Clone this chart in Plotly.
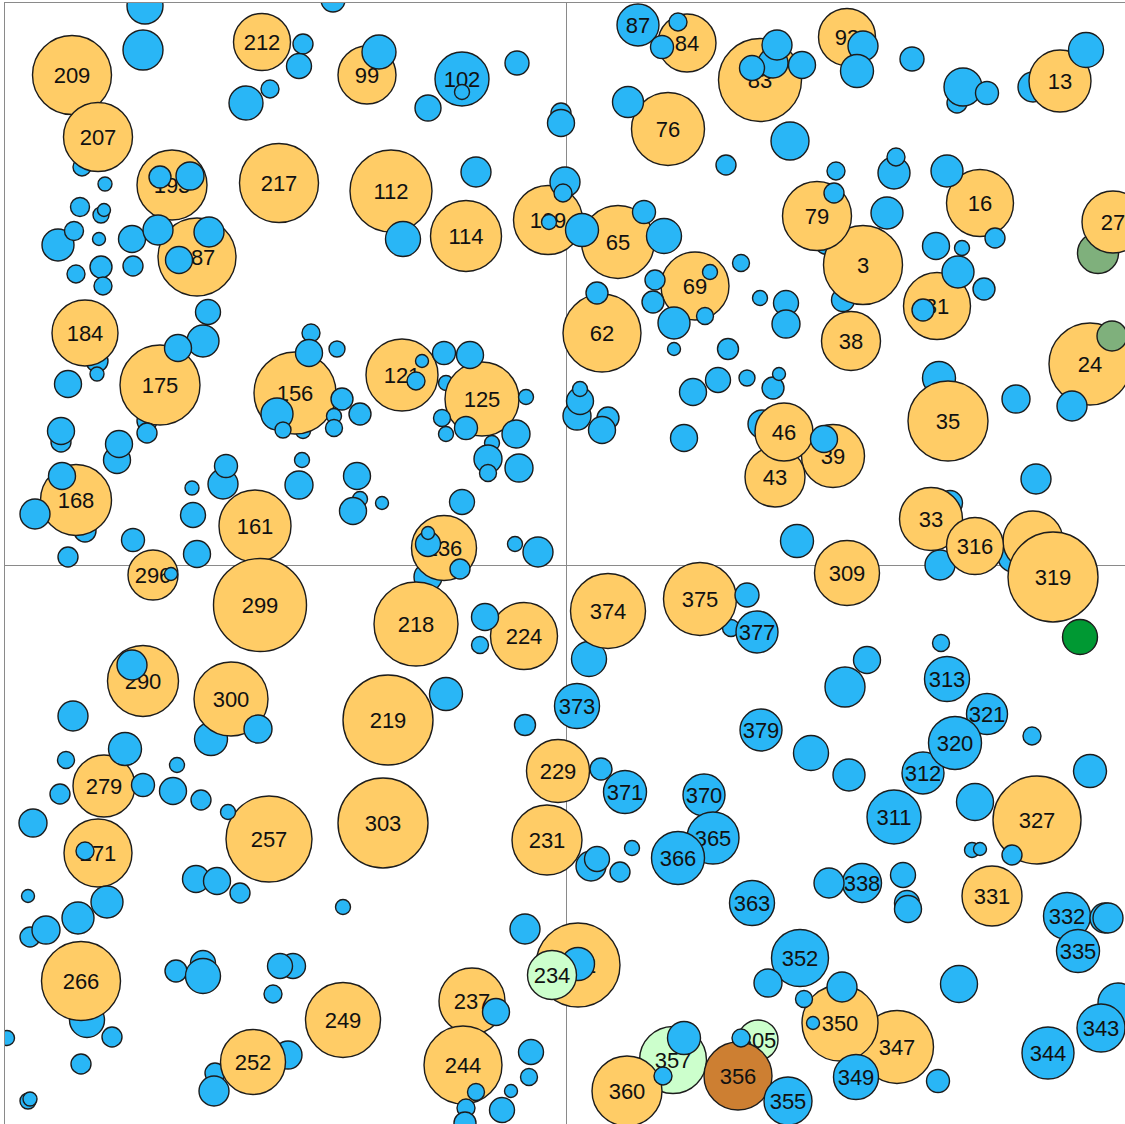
import plotly.graph_objects as go

# ---------------- data (x, y in chart units, centre of quadrants = 0; size = bubble diameter) -------------
KIND_COLORS = {"A": "#FFCC66", "B": "#29B6F6", "C": "#CCFFCC", "D": "#CD7F32", "E": "#009933", "F": "#7FB07C"}

# blue bubbles partly hidden behind others (drawn first)
under_x = [-484, 467, -469, -469, -481, -419, -479, -138, 384, 447,
           -351, -278, -263, -5, 261, 277, 196, 373, 374, -355,
           23, 165, -120, -505, 25, 552, -363, -536, -343, -206,
           -74, 11]
under_y = [398, 478, 204, 191, 34, 144, -455, -12, 62, 8,
           -508, -490, 134, 452, 323, 265, 141, 187, 0, -174,
           -94, -63, 182, 123, -301, -438, -398, -372, 81, 66,
           122, 149]
under_size = [18, 30, 22, 14, 22, 20, 35, 28, 25, 30,
              20, 28, 15, 20, 25, 23, 28, 33, 30, 33,
              35, 17, 15, 20, 30, 40, 25, 20, 30, 15,
              15, 28]

# special-coloured bubbles lying below the orange ones
low_label = ["", "357", "305", "356"]
low_x = [532, 107, 192, 172]
low_y = [312, -495, -475, -511]
low_size = [41, 67, 40, 68]
low_kind = ["F", "C", "C", "D"]

# orange bubbles
orange_label = ["209", "207", "212", "99", "193", "217", "187", "112", "114", "109",
                "65", "84", "83", "76", "93", "13", "16", "3", "79", "27",
                "184", "175", "156", "168", "161", "121", "125", "236", "62", "69",
                "38", "31", "24", "35", "39", "43", "46", "33", "309", "",
                "316", "319", "296", "299", "290", "300", "279", "257", "271", "218",
                "224", "219", "303", "374", "375", "229", "231", "327", "331", "266",
                "249", "252", "232", "237", "244", "360", "347", "350"]
orange_x = [-494, -468, -304, -199, -394, -287, -369, -175, -100, -18,
            52, 121, 194, 102, 281, 494, 414, 297, 251, 547,
            -481, -406, -271, -490, -311, -164, -84, -122, 36, 129,
            285, 371, 524, 382, 267, 209, 218, 365, 281, 467,
            409, 487, -413, -306, -423, -335, -462, -297, -468, -150,
            -42, -178, -183, 42, 134, -8, -19, 471, 426, -485,
            -223, -313, 12, -94, -103, 61, 331, 274]
orange_y = [490, 428, 523, 490, 380, 382, 308, 374, 329, 345,
            323, 522, 485, 436, 528, 484, 362, 300, 349, 343,
            232, 180, 172, 65, 39, 190, 166, 17, 232, 279,
            224, 259, 201, 144, 109, 88, 133, 46, -8, 24,
            19, -12, -10, -40, -116, -134, -221, -274, -288, -59,
            -71, -155, -258, -46, -34, -206, -275, -255, -331, -416,
            -455, -497, -400, -436, -500, -526, -482, -458]
orange_size = [79, 69, 57, 58, 70, 79, 78, 82, 71, 69,
               73, 58, 83, 73, 57, 62, 67, 79, 69, 62,
               66, 80, 82, 71, 72, 72, 74, 65, 78, 68,
               59, 67, 82, 80, 63, 60, 58, 63, 65, 60,
               57, 90, 50, 93, 71, 74, 62, 86, 68, 84,
               67, 90, 90, 75, 73, 63, 70, 88, 60, 79,
               75, 65, 84, 66, 78, 70, 73, 76]

# blue bubbles
blue_label = ["", "", "", "", "", "", "", "", "", "",
              "", "", "", "", "", "", "", "", "", "",
              "", "", "", "", "", "", "", "", "102", "",
              "", "", "", "", "", "", "", "", "", "",
              "", "", "", "", "", "", "", "", "", "",
              "", "", "", "", "", "", "", "", "", "",
              "", "", "", "", "", "", "", "", "", "",
              "", "", "", "", "", "", "", "", "", "",
              "", "", "", "", "", "", "", "87", "", "",
              "", "", "", "", "", "", "", "", "", "",
              "", "", "", "", "", "", "", "", "", "",
              "", "", "", "", "", "", "", "", "", "",
              "", "", "", "", "", "", "", "", "", "",
              "", "", "", "", "", "", "", "", "", "",
              "", "", "", "", "", "", "", "", "", "",
              "", "", "", "", "", "", "", "", "", "373",
              "", "371", "", "", "", "", "", "", "", "",
              "", "", "", "", "", "", "", "", "", "",
              "", "", "", "", "", "", "", "", "", "",
              "", "", "", "", "", "", "377", "379", "", "",
              "", "313", "312", "321", "320", "", "", "", "311", "",
              "", "370", "365", "366", "363", "", "", "", "338", "",
              "", "", "", "332", "335", "", "", "", "352", "",
              "", "", "", "349", "", "344", "343", "", "", "", "355"]
blue_x = [207, 211, 391, -421, -423, -263, -267, -320, -296, -187,
          -233, -406, -376, -461, -486, -465, -462, -508, -492, -467,
          -434, -408, -357, -387, -433, -465, -490, -463, -104, -104,
          -138, -49, -5, -90, -1, -3, -17, 16, -163, -358,
          -363, -388, -498, -505, -419, -449, -447, -504, -531, -498,
          -433, -369, -255, -257, -229, -224, -206, -232, -232, -289,
          -283, -340, -374, -373, -264, -267, -209, -213, -184, -104,
          -144, -150, -122, -96, -40, -124, -120, -100, -50, -78,
          -78, -47, -138, -138, -51, -28, -106, 72, 112, 96,
          186, 236, 297, 291, 346, 397, 421, 520, 62, 160,
          224, 270, 268, 328, 330, 381, 429, 321, 370, 396,
          392, 418, 357, 78, 98, 175, 144, 89, 87, 108,
          139, 108, 162, 31, 194, 220, 220, 152, 127, 181,
          207, 213, 258, 14, 14, 42, 36, 118, 450, 506,
          470, 231, -395, -434, -308, -493, -441, -500, -506, -423,
          -393, -389, -365, -338, -533, -81, -86, -120, -41, 11,
          35, 59, -481, -538, -459, -488, -520, -454, -559, -485,
          -538, -536, -370, -349, -326, -223, -390, -363, -273, -286,
          -293, -352, -41, 12, -70, -35, -37, -90, -55, -64,
          -100, -101, 31, 54, 66, 181, 191, 195, 375, 301,
          279, 381, 357, 421, 389, 466, 245, 283, 328, 524,
          409, 138, 147, 112, 186, 406, 414, 446, 296, 263,
          337, 341, 342, 501, 512, 539, 542, 393, 234, 202,
          276, 238, 247, 290, 372, 482, 535, 118, 97, 175, 222]
blue_y = [502, 520, 462, 559, 515, 521, 499, 462, 476, 513,
          565, 388, 389, 381, 358, 350, 355, 320, 334, 326,
          326, 335, 333, 305, 299, 298, 291, 279, 486, 473,
          457, 502, 442, 393, 383, 372, 343, 335, 326, 253,
          224, 217, 181, 134, 132, 105, 121, 89, 51, 8,
          25, 11, 232, 212, 216, 166, 151, 149, 137, 151,
          135, 99, 77, 50, 105, 80, 89, 54, 62, 63,
          204, 184, 212, 210, 168, 147, 131, 137, 131, 106,
          92, 97, 21, 32, 21, 13, -4, 540, 543, 518,
          497, 500, 519, 494, 506, 478, 472, 515, 463, 400,
          424, 394, 372, 392, 408, 394, 327, 352, 319, 317,
          293, 276, 255, 353, 329, 302, 293, 285, 263, 242,
          249, 216, 216, 272, 267, 262, 241, 185, 173, 187,
          177, 191, 126, 164, 176, 147, 135, 127, 166, 159,
          86, 24, -9, -100, -164, -151, -184, -195, -229, -220,
          -226, -200, -235, -247, -258, -52, -80, -129, -160, -141,
          -204, -227, -286, -331, -337, -353, -365, -472, -473, -499,
          -536, -534, -314, -316, -328, -342, -406, -411, -401, -401,
          -429, -526, -364, -399, -447, -487, -512, -527, -526, -545,
          -543, -558, -294, -307, -283, -30, -67, -165, -78, -95,
          -122, -114, -208, -149, -178, -171, -188, -210, -252, -206,
          -237, -230, -273, -293, -338, -285, -284, -290, -318, -318,
          -310, -338, -344, -351, -386, -353, -353, -419, -393, -418,
          -422, -434, -458, -512, -516, -488, -463, -473, -511, -473, -536]
blue_size = [30, 30, 20, 36, 40, 20, 25, 34, 18, 34,
             24, 22, 28, 14, 19, 16, 13, 32, 19, 13,
             27, 30, 30, 27, 20, 22, 18, 18, 54, 15,
             26, 24, 27, 30, 30, 18, 15, 33, 35, 25,
             32, 27, 27, 27, 20, 27, 27, 27, 30, 20,
             23, 27, 18, 27, 16, 22, 22, 15, 17, 32,
             16, 23, 14, 25, 15, 28, 27, 27, 13, 25,
             13, 18, 23, 27, 15, 17, 15, 23, 28, 28,
             17, 28, 25, 13, 15, 30, 20, 42, 18, 23,
             25, 27, 30, 33, 24, 38, 23, 35, 31, 20,
             38, 18, 20, 32, 18, 32, 20, 32, 27, 15,
             32, 22, 22, 23, 35, 17, 15, 20, 22, 32,
             17, 13, 21, 22, 15, 25, 28, 25, 27, 16,
             22, 13, 27, 27, 15, 22, 27, 27, 28, 30,
             30, 33, 13, 30, 28, 30, 33, 17, 20, 23,
             27, 15, 20, 15, 28, 27, 17, 33, 21, 45,
             22, 43, 18, 13, 32, 32, 28, 20, 15, 20,
             16, 14, 27, 27, 20, 15, 22, 35, 25, 25,
             18, 30, 30, 33, 27, 25, 17, 17, 13, 25,
             18, 22, 25, 20, 15, 24, 42, 42, 17, 27,
             40, 45, 42, 41, 53, 18, 35, 32, 54, 33,
             37, 42, 52, 53, 45, 15, 13, 20, 39, 30,
             25, 25, 27, 47, 43, 30, 30, 37, 57, 28,
             30, 17, 13, 45, 23, 52, 48, 33, 18, 18, 48]

# special-coloured bubbles lying on top
top_label = ["234", "", ""]
top_x = [-14, 514, 546]
top_y = [-410, -72, 229]
top_size = [49, 35, 30]
top_kind = ["C", "E", "F"]

X_RANGE = [-561, 559]
Y_RANGE = [-559, 562]
TEXT_DROP = 2  # small downward nudge of the labels (axis units)

assert len(under_x) == len(under_y) == len(under_size)
assert len(orange_label) == len(orange_x) == len(orange_y) == len(orange_size)
assert len(blue_label) == len(blue_x) == len(blue_y) == len(blue_size)

# ---------------- figure -------------
fig = go.Figure()
FONT = dict(family="Arial, 'Liberation Sans', sans-serif", size=22, color="#111111")


def add_bubbles(labels, xs, ys, sizes, kinds):
    for lab, x, y, s, k in zip(labels, xs, ys, sizes, kinds):
        fig.add_trace(go.Scatter(
            x=[x], y=[y], mode="markers",
            marker=dict(size=s, color=KIND_COLORS[k], opacity=1,
                        line=dict(color="#1c1c1c", width=1.4)),
            hoverinfo="skip", showlegend=False, cliponaxis=True,
        ))
        if lab:
            fig.add_trace(go.Scatter(
                x=[x], y=[y - TEXT_DROP], mode="text", text=[lab],
                textposition="middle center", textfont=FONT,
                hoverinfo="skip", showlegend=False, cliponaxis=True,
            ))


add_bubbles([""] * len(under_x), under_x, under_y, under_size, ["B"] * len(under_x))
add_bubbles(low_label, low_x, low_y, low_size, low_kind)
add_bubbles(orange_label, orange_x, orange_y, orange_size, ["A"] * len(orange_x))
add_bubbles(blue_label, blue_x, blue_y, blue_size, ["B"] * len(blue_x))
add_bubbles(top_label, top_x, top_y, top_size, top_kind)

fig.update_xaxes(range=X_RANGE, side="top", showgrid=False, showticklabels=False, ticks="",
                 zeroline=True, zerolinecolor="#8a8a8a", zerolinewidth=1,
                 showline=True, linecolor="#8a8a8a", linewidth=1, fixedrange=True)
fig.update_yaxes(range=Y_RANGE, side="left", showgrid=False, showticklabels=False, ticks="",
                 zeroline=True, zerolinecolor="#8a8a8a", zerolinewidth=1,
                 showline=True, linecolor="#8a8a8a", linewidth=1, fixedrange=True)
fig.update_layout(width=1125, height=1124, margin=dict(l=5, r=0, t=3, b=0),
                  paper_bgcolor="white", plot_bgcolor="white", showlegend=False)

fig.write_html("out.html", config={"displayModeBar": False},
               post_script="document.body.style.margin='0';document.body.style.overflow='hidden';")
